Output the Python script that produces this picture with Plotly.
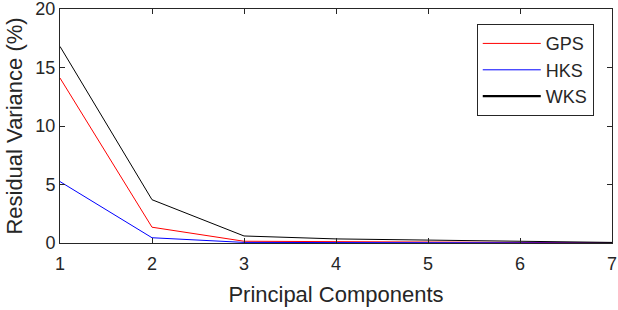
import plotly.graph_objects as go

components = [1, 2, 3, 4, 5, 6, 7]
gps = [14.1, 1.35, 0.15, 0.1, 0.08, 0.05, 0.02]
hks = [5.25, 0.45, 0.05, 0.03, 0.02, 0.01, 0.0]
wks = [16.8, 3.7, 0.6, 0.35, 0.25, 0.15, 0.05]
x_ticks = [1, 2, 3, 4, 5, 6, 7]
y_ticks = [0, 5, 10, 15, 20]

series = [("GPS", gps, "#ff0000", 1.0, 1.0),
          ("HKS", hks, "#0000ff", 1.0, 1.0),
          ("WKS", wks, "#000000", 1.0, 2.2)]

fig = go.Figure()
for name, vals, color, w, lw in series:
    fig.add_trace(go.Scatter(x=components, y=vals, mode="lines", name=name,
                             line=dict(color=color, width=w), showlegend=False))
for name, vals, color, w, lw in series:
    fig.add_trace(go.Scatter(x=[None], y=[None], mode="lines", name=name,
                             line=dict(color=color, width=lw)))

axis_common = dict(showline=True, linecolor="#262626", linewidth=1, mirror="ticks",
                   ticks="inside", ticklen=5, tickcolor="#262626", showgrid=False,
                   zeroline=False, automargin=False, ticklabeloverflow="allow",
                   tickfont=dict(size=18, color="#262626"))
fig.update_xaxes(range=[1, 7], tickvals=x_ticks, ticklabelstandoff=4,
                 title=dict(text="Principal Components", font=dict(size=22, color="#262626"), standoff=14),
                 **axis_common)
fig.update_yaxes(range=[0, 20], tickvals=y_ticks,
                 title=dict(text="Residual Variance (%)", font=dict(size=22, color="#262626"), standoff=6),
                 **axis_common)
fig.update_layout(
    width=618, height=310,
    margin=dict(l=60, r=6, t=9, b=67),
    paper_bgcolor="white", plot_bgcolor="white",
    font=dict(family="Liberation Sans, Arial, sans-serif", color="#262626"),
    legend=dict(x=0.755, y=0.935, xanchor="left", yanchor="top", itemwidth=58,
                bgcolor="white", bordercolor="#262626", borderwidth=1,
                font=dict(size=18, color="#262626")),
)
fig.write_html("out.html", config={"displayModeBar": False},
               post_script="document.body.style.margin='0';document.documentElement.style.margin='0';")
